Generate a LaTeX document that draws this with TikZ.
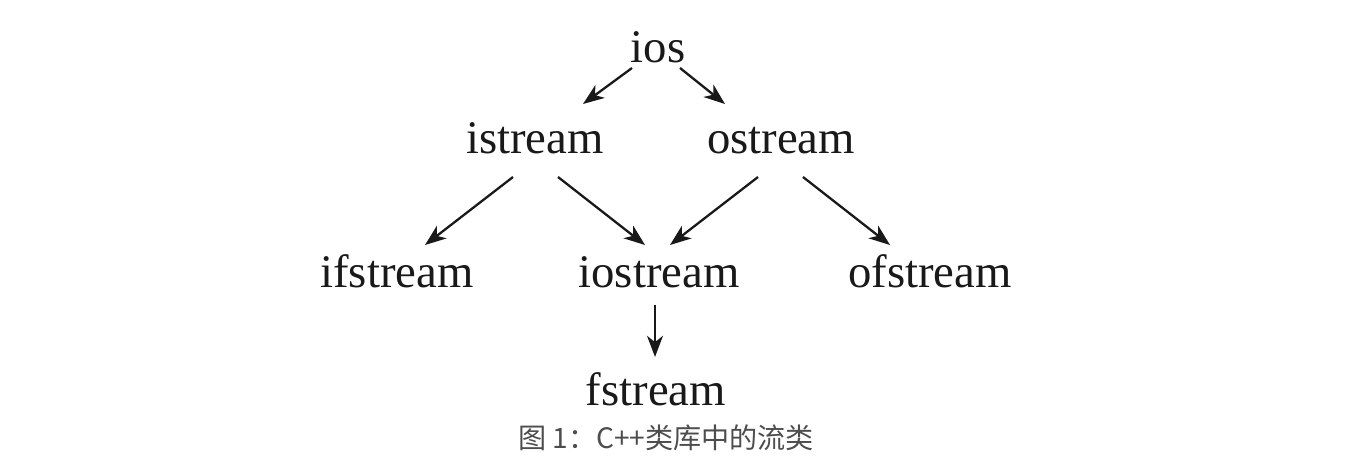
\documentclass[tikz,border=0pt]{standalone}
\usepackage{fontspec}
\setmainfont{Liberation Serif}
\newfontfamily\cjk{Noto Sans CJK SC}
\usetikzlibrary{arrows.meta,calc}
\definecolor{captiongray}{HTML}{4d4d4d}

\begin{document}
\begin{tikzpicture}[x=0.02cm, y=0.02cm]
  \tikzset{
    cls/.style={anchor=base, inner sep=0pt, text=black!90, font=\fontsize{26.6}{30}\selectfont},
    arr/.style={-{Stealth[length=12pt, width=9pt, inset=3.5pt]}, line width=1.3pt, black!90},
    caption/.style={inner sep=0pt, text=captiongray, font=\cjk\fontsize{16}{19}\selectfont}
  }

  % Marco de la figura
  \useasboundingbox (0,0) rectangle (1356,-474);

  % Clases (línea base de cada palabra)
  \node[cls] (ios) at (658,-62) {ios};
  \node[cls] (istream) at (535,-153) {istream};
  \node[cls] (ostream) at (781,-153) {ostream};
  \node[cls] (ifstream) at (397,-287) {ifstream};
  \node[cls] (iostream) at (659,-287) {iostream};
  \node[cls] (ofstream) at (930,-287) {ofstream};
  \node[cls] (fstream) at (656,-405) {fstream};

  % Herencia desde ios
  \draw[arr] ($(ios.base)+(-26,-6)$) -- ($(istream.base)+(48,49)$);
  \draw[arr] ($(ios.base)+(22,-6)$) -- ($(ostream.base)+(-56,49)$);

  % Herencia desde istream y ostream
  \draw[arr] ($(istream.base)+(-22,-24)$) -- ($(ifstream.base)+(28,42)$);
  \draw[arr] ($(istream.base)+(23,-24)$) -- ($(iostream.base)+(-14,42)$);
  \draw[arr] ($(ostream.base)+(-23,-24)$) -- ($(iostream.base)+(11,42)$);
  \draw[arr] ($(ostream.base)+(22,-24)$) -- ($(ofstream.base)+(-40,42)$);

  % Herencia desde iostream
  \draw[arr] ($(iostream.base)+(-4,-18)$) -- ($(fstream.base)+(-1,48)$);

  % Pie de figura
  \node[caption] (title) at (666,-438) {图 1：C++类库中的流类};
\end{tikzpicture}
\end{document}
